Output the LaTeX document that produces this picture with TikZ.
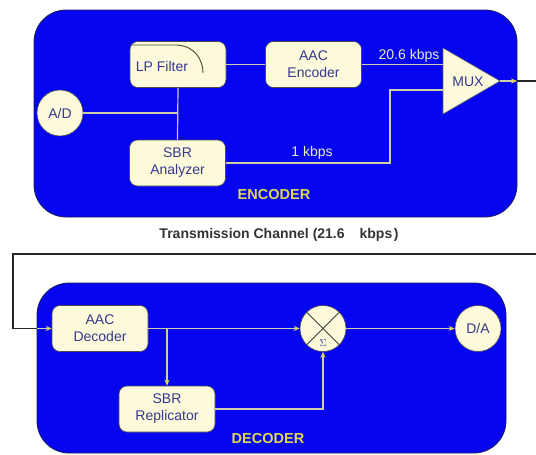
\documentclass[tikz,border=0pt]{standalone}
\usepackage{fontspec}
\setmainfont{Liberation Sans}
\usetikzlibrary{arrows.meta}
\definecolor{panelblue}{RGB}{5,5,240}
\definecolor{paneledge}{RGB}{30,30,90}
\definecolor{cream}{RGB}{252,250,218}
\definecolor{boxtext}{RGB}{55,55,140}
\definecolor{wirecol}{RGB}{205,205,170}
\definecolor{arrowyel}{RGB}{225,220,70}
\definecolor{lblcol}{RGB}{235,235,190}
\definecolor{titlecol}{RGB}{225,215,80}
\definecolor{curvecol}{RGB}{70,70,45}
\tikzset{
  panel/.style={draw=paneledge, line width=0.8pt, fill=panelblue, rounded corners=32pt, inner sep=0pt},
  blk/.style={draw=black!70, line width=0.6pt, fill=cream, rounded corners=8pt,
    minimum width=96pt, minimum height=46pt, align=center, text=boxtext,
    font=\fontsize{14}{17}\selectfont, inner sep=0pt},
  rnd/.style={circle, draw=black!70, line width=0.6pt, fill=cream, minimum size=46pt,
    inner sep=0pt, text=boxtext, font=\fontsize{14}{17}\selectfont},
  wire/.style={draw=wirecol, line width=1.2pt},
  arr/.style={wire, -{Stealth[length=6pt,width=5pt,color=arrowyel]}},
  rate/.style={text=lblcol, font=\fontsize{14}{17}\selectfont, inner sep=0pt},
  ptitle/.style={text=titlecol, font=\bfseries\fontsize{14.5}{17}\selectfont, inner sep=0pt},
  chan/.style={draw=black!85, line width=1.3pt}
}
\begin{document}
\begin{tikzpicture}[x=1pt,y=-1pt]
\useasboundingbox (0,0) rectangle (536,455);
% panels
\node[panel, minimum width=483pt, minimum height=207pt] (encp) at (275.5,113.5) {};
\node[panel, minimum width=469pt, minimum height=170pt] (decp) at (271.5,368) {};
% encoder blocks
\node[blk] (lpf) at (178,64.5) {};
\draw[curvecol, line width=0.9pt] (132,45) -- (177,45) .. controls (195,46) and (203,60) .. (203,73);
\node[text=boxtext, font=\fontsize{14}{17}\selectfont, inner sep=0pt] (lpft) at (162,66) {LP Filter};
\node[blk] (aace) at (313.5,64.5) {AAC\\Encoder};
\node[blk] (sbra) at (177.5,163) {SBR\\Analyzer};
\node[rnd] (ad) at (60,113) {A/D};
% MUX
\draw[draw=black!60, line width=0.6pt, fill=cream] (443,48) -- (500,81) -- (443,114) -- cycle;
\node[text=boxtext, font=\fontsize{14}{17}\selectfont, inner sep=0pt] (mux) at (468,82) {MUX};
\coordinate (muxa) at (443,64.5);
\coordinate (muxb) at (443,90);
\coordinate (muxo) at (500,81);
\coordinate (encout) at (517,81);
\coordinate (j1) at (178,113);
% encoder wires
\draw[wire] (ad.east) -- (j1);
\draw[wire] (lpf.south) -- (sbra.north);
\draw[wire] (lpf.east) -- (aace.west);
\draw[wire] (aace.east) -- (muxa);
\draw[wire] (sbra.east) -- (390,163) -- (390,90) -- (muxb);
\draw[arr] (muxo) -- (encout);
\node[rate] (r1) at (409,56) {20.6 kbps};
\node[rate] (r2) at (312,153) {1 kbps};
\node[ptitle] (enct) at (274,195) {ENCODER};
% channel
\node[font=\bfseries\fontsize{14}{16}\selectfont, text=black!80, inner sep=0pt] (chant) at (279,235) {Transmission Channel (21.6\hspace{15pt}kbps\hspace{1.5pt})};
\coordinate (decin) at (37,328.5);
\draw[chan] (encout) -- (540,81) -- (540,254) -- (13,254) -- (13,328.5) -- (decin);
% decoder blocks
\node[blk] (aacd) at (100,328.5) {AAC\\Decoder};
\node[blk] (sbrr) at (167,409) {SBR\\Replicator};
\node[rnd] (sum) at (323,328.5) {};
\draw[black!75, line width=0.9pt] (sum.north west) -- (sum.south east);
\draw[black!75, line width=0.9pt] (sum.north east) -- (sum.south west);
\node[text=boxtext, font=\fontsize{10}{10}\selectfont, inner sep=0pt] (sig) at (323,343) {$\Sigma$};
\node[rnd] (da) at (478,328.5) {D/A};
\coordinate (j2) at (167,328.5);
% decoder wires
\draw[arr] (decin) -- (aacd.west);
\draw[arr] (aacd.east) -- (sum.west);
\draw[arr] (j2) -- (sbrr.north);
\draw[arr] (sbrr.east) -- (323,409) -- (sum.south);
\draw[arr] (sum.east) -- (da.west);
\node[ptitle] (dect) at (268,439) {DECODER};
\end{tikzpicture}
\end{document}
